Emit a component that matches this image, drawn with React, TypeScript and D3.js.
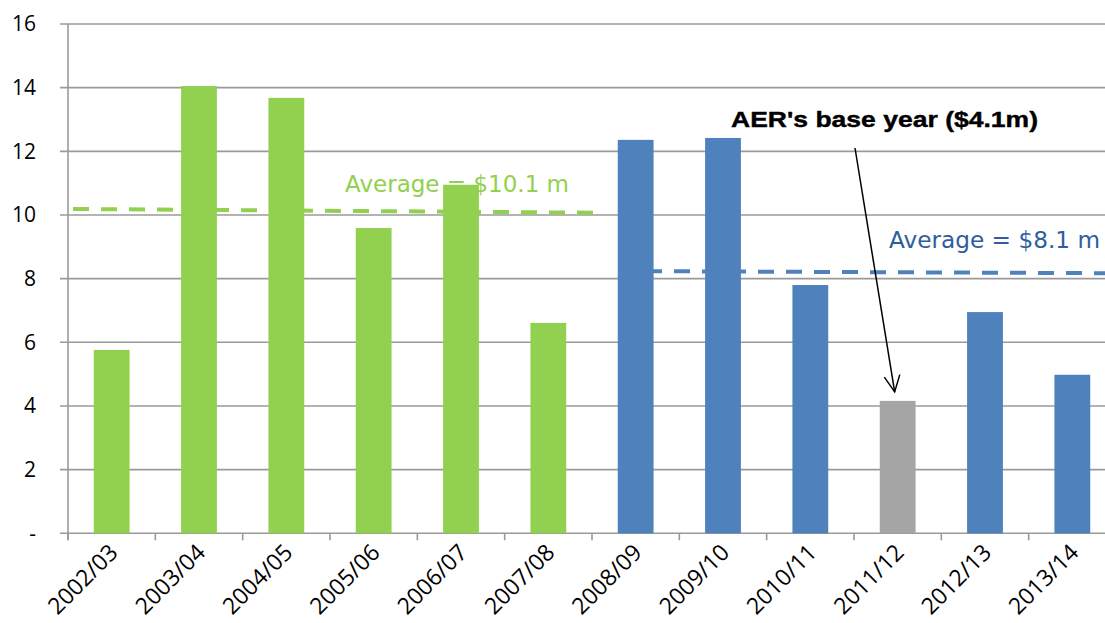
import React from "react";
import * as d3 from "d3";

const categories = ["2002/03", "2003/04", "2004/05", "2005/06", "2006/07", "2007/08", "2008/09", "2009/10", "2010/11", "2011/12", "2012/13", "2013/14"];
const values = [5.76, 14.05, 13.68, 9.59, 10.95, 6.61, 12.36, 12.42, 7.8, 4.16, 6.95, 4.98];
const periods = ["past", "past", "past", "past", "past", "past", "recent", "recent", "recent", "base", "recent", "recent"];
const yTicks = [0, 2, 4, 6, 8, 10, 12, 14, 16];
const greenAverage = [10.19, 10.07];
const blueAverage = [8.24, 8.17];
const greenLabel = "Average = $10.1 m";
const blueLabel = "Average = $8.1 m";
const baseLabel = "AER's base year ($4.1m)";

const W = 1105;
const H = 623;
const left = 68;
const right = 1116;
const top = 24;
const bottom = 533.3;

const colors: Record<string, string> = { past: "#92D050", recent: "#4F81BD", base: "#A5A5A5" };

export default function App() {
  const x = d3.scaleBand<string>().domain(categories).range([left, right]).paddingInner(0.59).paddingOuter(0.295);
  const xs = d3.scaleBand<string>().domain(categories).range([left, right]).padding(0);
  const y = d3.scaleLinear().domain([0, 16]).range([bottom, top]);
  const step = xs.step();
  const line = d3.line<[number, number]>().x((d) => d[0]).y((d) => d[1]);

  const gx0 = xs(categories[0])! + 5;
  const gx1 = xs(categories[6])! + 9;
  const bx0 = xs(categories[6])! + 26;
  const bx1 = right;

  const baseIdx = periods.indexOf("base");
  const tipX = x(categories[baseIdx])! + x.bandwidth() / 2 - 3;
  const tipY = y(values[baseIdx]) - 9;
  const startX = 855;
  const startY = 148;
  const ang = Math.atan2(tipY - startY, tipX - startX);
  const al = 18;
  const spread = 0.45;
  const a1 = [tipX - al * Math.cos(ang - spread), tipY - al * Math.sin(ang - spread)];
  const a2 = [tipX - al * Math.cos(ang + spread), tipY - al * Math.sin(ang + spread)];

  return (
    <svg width={W} height={H} style={{ position: "absolute", left: 0, top: 0, background: "#fff" }}>
      {yTicks.map((t) => (
        <g key={t}>
          <line x1={60} x2={W} y1={y(t)} y2={y(t)} stroke="#9a9a9a" strokeWidth={1.6} />
          <text x={36} y={y(t)} dy="0.35em" textAnchor="end" fontFamily="'Open Sans', sans-serif" fontSize={21} fill="#000">
            {t === 0 ? "-" : t}
          </text>
        </g>
      ))}
      <line x1={left} x2={left} y1={top} y2={bottom + 7} stroke="#9a9a9a" strokeWidth={1.6} />
      {categories.map((c) => (
        <line key={"t" + c} x1={xs(c)!} x2={xs(c)!} y1={bottom} y2={bottom + 7} stroke="#9a9a9a" strokeWidth={1.6} />
      ))}
      {categories.map((c, i) => (
        <rect key={c} x={x(c)!} y={y(values[i])} width={x.bandwidth()} height={bottom - y(values[i])} fill={colors[periods[i]]} />
      ))}
      <path d={line([[gx0, y(greenAverage[0])], [gx1, y(greenAverage[1])]])!} stroke="#92D050" strokeWidth={4} strokeDasharray="16 12" fill="none" />
      <path d={line([[bx0, y(blueAverage[0])], [bx1, y(blueAverage[1])]])!} stroke="#4F81BD" strokeWidth={4} strokeDasharray="16 12" fill="none" />
      <text x={345} y={192} fontFamily="'DejaVu Sans', sans-serif" fontSize={22.7} fill="#92D050" textLength={224} lengthAdjust="spacingAndGlyphs">
        {greenLabel}
      </text>
      <text x={889} y={248} fontFamily="'DejaVu Sans', sans-serif" fontSize={22.7} fill="#2E5E9E" textLength={211} lengthAdjust="spacingAndGlyphs">
        {blueLabel}
      </text>
      <text x={731} y={127} fontFamily="'Liberation Sans', Arial, sans-serif" fontWeight="bold" fontSize={22} fill="#000" stroke="#000" strokeWidth={0.4} textLength={307} lengthAdjust="spacingAndGlyphs">
        {baseLabel}
      </text>
      <line x1={startX} y1={startY} x2={tipX} y2={tipY} stroke="#000" strokeWidth={1.5} />
      <path d={`M${a1[0]},${a1[1]} L${tipX},${tipY} L${a2[0]},${a2[1]}`} stroke="#000" strokeWidth={1.5} fill="none" />
      {categories.map((c) => {
        const cx = xs(c)! + step / 2 + 2;
        const cy = bottom + 15;
        return (
          <text key={"l" + c} x={cx} y={cy} transform={`rotate(-45 ${cx} ${cy})`} textAnchor="end" dy="0.35em" fontFamily="'Open Sans', sans-serif" fontSize={23} fill="#000">
            {c}
          </text>
        );
      })}
    </svg>
  );
}
